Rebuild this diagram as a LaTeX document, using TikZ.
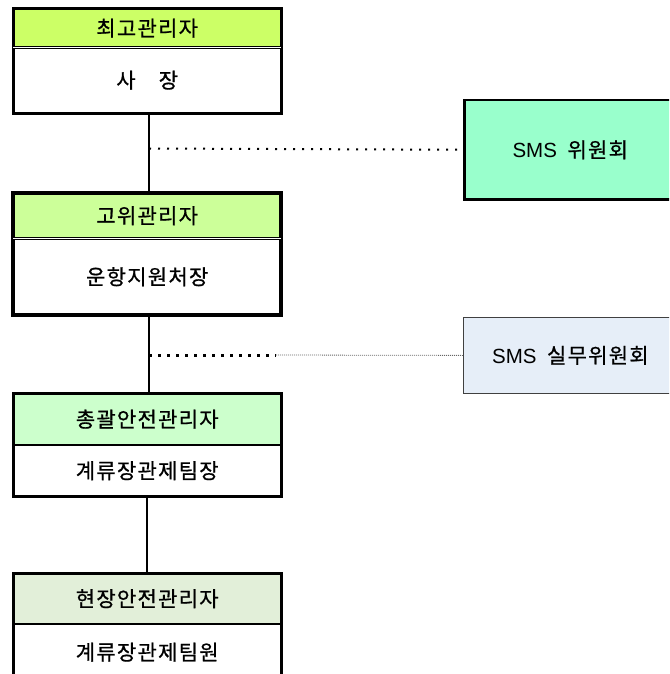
\documentclass[tikz,border=0pt]{standalone}
\usepackage{fontspec}
\setmainfont{Noto Sans CJK KR}[LetterSpace=6, BoldFont=Noto Sans CJK KR, BoldFeatures={FakeBold=0.8}]
\newfontfamily\latinfont{Liberation Sans}
\usetikzlibrary{positioning}

\definecolor{headyellow}{HTML}{CCFF66}
\definecolor{headlime}{HTML}{CCFF99}
\definecolor{headmint}{HTML}{CCFFCC}
\definecolor{headsage}{HTML}{E2EFD9}
\definecolor{smsgreen}{HTML}{99FFCC}
\definecolor{smsblue}{HTML}{E6EEF8}

\newcommand{\smsword}{{\latinfont\mdseries\fontsize{20.5}{20.5}\selectfont SMS}\hspace{0.5em}}

\tikzset{
	cell/.style={anchor=north west, minimum width=268pt, inner sep=0pt, font=\fontsize{21}{21}\selectfont\bfseries},
	frame/.style={draw=black, line width=3pt},
	link/.style={draw=black, line width=2.5pt},
	twin/.style={draw=black, double=white, double distance=1.5pt, line width=1pt}
}

\begin{document}
\begin{tikzpicture}[x=1pt, y=-1pt]

\useasboundingbox (0,0) rectangle (669,674);
\clip (0,0) rectangle (669,674);

% chain of managers
\node[cell, fill=headyellow, minimum height=38pt] (top-h) at (13,9) {최고관리자};
\node[cell, minimum height=66pt] (top-b) at (13,47) {사\hspace{1.1em}장};
\draw[frame] (top-h.north west) rectangle (top-b.south east);
\draw[twin] (top-h.south west) -- (top-h.south east);

\node[cell, fill=headlime, minimum height=45pt] (senior-h) at (13,193) {고위관리자};
\node[cell, minimum height=77pt] (senior-b) at (13,238) {운항지원처장};
\draw[frame, line width=4pt] (senior-h.north west) rectangle (senior-b.south east);
\draw[twin] (senior-h.south west) -- (senior-h.south east);

\node[cell, fill=headmint, minimum height=52pt] (chief-h) at (13,393) {총괄안전관리자};
\node[cell, minimum height=51pt] (chief-b) at (13,445) {계류장관제팀장};
\draw[frame] (chief-h.north west) rectangle (chief-b.south east);
\draw[line width=2pt] (chief-h.south west) -- (chief-h.south east);

\node[cell, fill=headsage, minimum height=51pt] (site-h) at (13,573) {현장안전관리자};
\node[cell, minimum height=56pt] (site-b) at (13,624) {계류장관제팀원};
\draw[frame] (site-h.north west) rectangle (site-b.south east);
\draw[line width=2pt] (site-h.south west) -- (site-h.south east);

\draw[link] ([xshift=2pt]top-b.south) -- ([xshift=2pt]senior-h.north);
\draw[link] ([xshift=2pt]senior-b.south) -- ([xshift=2pt]chief-h.north);
\draw[link] (chief-b.south) -- (site-h.north);

% committees
\node[cell, fill=smsgreen, draw=black, line width=2.5pt, minimum width=212pt, minimum height=99pt] (sms) at (463,99) {\smsword 위원회};
\node[cell, fill=smsblue, draw=black!75, line width=0.8pt, minimum width=214pt, minimum height=76pt] (work) at (463,317) {\smsword 실무위원회};

\coordinate (tap1) at (149,148.5);
\coordinate (tap2) at (149,355);
\coordinate (mid2) at (276,355);

\draw[line width=2pt, dash pattern=on 2pt off 7pt] (tap1) -- (sms.west);
\draw[line width=3pt, dash pattern=on 3pt off 6pt] (tap2) -- (mid2);
\draw[line width=0.8pt, black!60, dash pattern=on 1pt off 1pt] (mid2) -- (work.west);

\end{tikzpicture}
\end{document}
